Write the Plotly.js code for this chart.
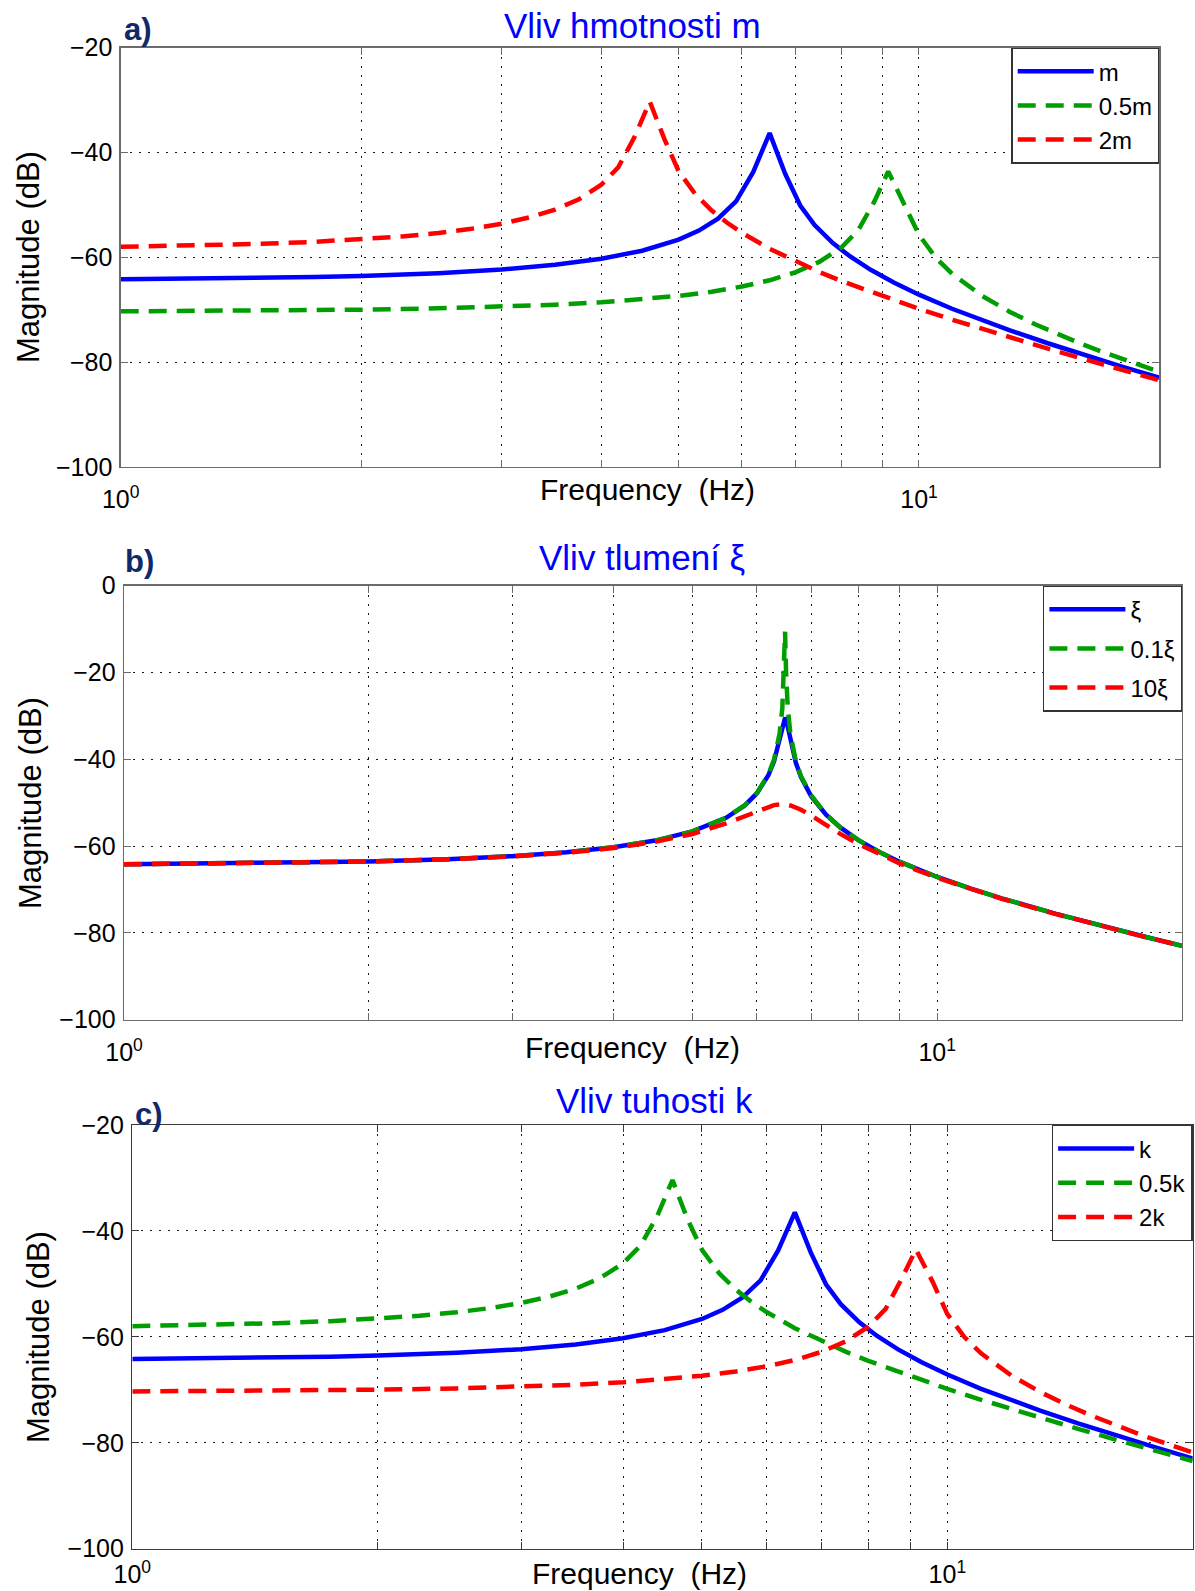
<!DOCTYPE html>
<html>
<head>
<meta charset="utf-8">
<script src="https://cdn.plot.ly/plotly-3.0.1.min.js"></script>
<style>
html,body{margin:0;padding:0;background:#ffffff;}
#chart{width:1195px;height:1591px;}
</style>
</head>
<body>
<div id="chart"></div>
<script>
// ---------------- data ----------------
// frequency grids (Hz)
const freqM = [1, 1.25, 1.5, 1.75, 2, 2.5, 3, 3.5, 4, 4.5, 5, 5.3, 5.6, 5.9, 6.2, 6.5, 6.8, 7.1, 7.4, 7.8, 8.2, 8.7, 9.3, 10, 11, 12, 13, 14.5, 16, 18, 20];
const freqL = [1, 1.25, 1.5, 1.75, 2, 2.25, 2.5, 2.75, 3, 3.25, 3.5, 3.75, 4, 4.2, 4.4, 4.6, 4.8, 5, 5.25, 5.5, 5.75, 6, 6.5, 7, 7.5, 8, 9, 10, 11, 12, 13, 14.5, 16, 18, 20];
const freqH = [1, 1.5, 2, 2.5, 3, 3.5, 4, 4.5, 5, 5.5, 6, 6.5, 7, 7.5, 8, 8.4, 8.8, 9.15, 9.6, 10, 10.5, 11, 12, 13, 14, 15, 16, 17, 18, 19, 20];
const freqB = [1, 1.5, 2, 2.5, 3, 3.5, 4, 4.5, 5, 5.5, 5.8, 6.0, 6.2, 6.3, 6.4, 6.45, 6.48, 6.5, 6.52, 6.55, 6.6, 6.7, 6.8, 7.0, 7.3, 7.6, 8, 8.5, 9, 10, 11, 12, 14, 16, 18, 20];

// a) Vliv hmotnosti m  (magnitude, dB)
const magA_m   = [-64.19, -64.07, -63.93, -63.75, -63.54, -63.01, -62.32, -61.43, -60.27, -58.73, -56.62, -54.90, -52.62, -49.32, -43.69, -36.3, -44.11, -50.12, -53.83, -57.27, -59.84, -62.37, -64.80, -67.12, -69.81, -72.03, -73.94, -76.39, -78.48, -80.88, -82.96];
const magA_05m = [-70.30, -70.17, -69.98, -69.73, -69.42, -69.04, -68.58, -68.02, -67.35, -66.55, -65.57, -64.38, -62.86, -60.87, -58.08, -54.73, -49.23, -43.6, -50.03, -55.70, -60.10, -63.12, -67.36, -70.41, -72.82, -74.82, -76.56, -78.08, -79.46, -80.70, -81.85];
const magA_2m  = [-57.98, -57.73, -57.42, -57.04, -56.58, -56.02, -55.36, -54.56, -53.59, -52.39, -50.89, -48.91, -46.14, -42.82, -37.10, -30.3, -37.49, -43.58, -48.02, -51.06, -53.40, -55.32, -58.37, -60.78, -62.79, -64.53, -67.43, -69.82, -71.88, -73.68, -75.29, -77.42, -79.31, -81.51, -83.46];

// b) Vliv tlumení ξ
const magB_xi   = [-64.19, -63.93, -63.54, -63.01, -62.32, -61.43, -60.27, -58.73, -56.62, -53.48, -50.62, -47.87, -43.69, -40.47, -35.61, -32.39, -30.79, -30.42, -30.84, -32.49, -35.78, -40.76, -44.11, -48.55, -52.74, -55.70, -58.63, -61.43, -63.65, -67.12, -69.81, -72.03, -75.62, -78.48, -80.88, -82.96];
const magB_01xi = [-64.19, -63.93, -63.54, -63.01, -62.32, -61.43, -60.27, -58.73, -56.62, -53.47, -50.58, -47.80, -43.50, -40.05, -34.09, -28.18, -20.58, -10.6, -20.62, -28.17, -34.23, -40.32, -43.90, -48.33, -52.74, -55.70, -58.63, -61.43, -63.65, -67.12, -69.81, -72.03, -75.62, -78.48, -80.88, -82.96];
const magB_10xi = [-64.20, -63.94, -63.56, -63.05, -62.38, -61.53, -60.43, -59.03, -57.20, -54.79, -53.06, -51.88, -50.89, -50.55, -50.39, -50.38, -50.40, -50.42, -50.45, -50.51, -50.65, -51.07, -51.62, -52.97, -55.15, -57.18, -59.53, -61.98, -64.03, -67.33, -69.95, -72.13, -75.68, -78.52, -80.91, -82.98];

// c) Vliv tuhosti k
const magC_k   = [-64.19, -64.07, -63.93, -63.75, -63.54, -63.01, -62.32, -61.43, -60.27, -58.73, -56.62, -54.90, -52.62, -49.32, -43.69, -36.5, -44.11, -50.12, -53.83, -57.27, -59.84, -62.37, -64.80, -67.12, -69.81, -72.03, -73.94, -76.39, -78.48, -80.88, -82.96];
const magC_05k = [-57.98, -57.73, -57.42, -57.04, -56.58, -56.02, -55.36, -54.56, -53.59, -52.39, -50.89, -48.91, -46.14, -42.82, -37.41, -30.4, -37.83, -43.58, -48.02, -51.06, -53.40, -55.32, -58.37, -60.78, -62.79, -64.53, -67.43, -69.82, -71.88, -73.68, -75.29, -77.42, -79.31, -81.51, -83.46];
const magC_2k  = [-70.30, -70.17, -69.98, -69.73, -69.42, -69.04, -68.58, -68.02, -67.35, -66.55, -65.57, -64.38, -62.86, -60.87, -58.08, -54.73, -48.90, -43.5, -49.71, -55.70, -60.10, -63.12, -67.36, -70.41, -72.82, -74.82, -76.56, -78.08, -79.46, -80.70, -81.85];

// texts and ticks
const namesA = ['m', '0.5m', '2m'];
const namesB = ['ξ', '0.1ξ', '10ξ'];
const namesC = ['k', '0.5k', '2k'];
const titles = ['Vliv hmotnosti m', 'Vliv tlumení ξ', 'Vliv tuhosti k'];
const letters = ['a)', 'b)', 'c)'];
const xLabel = 'Frequency\u00a0 (Hz)';
const yLabel = 'Magnitude (dB)';
const xMajorVals = [1, 10];
const xMajorText = ['10<sup>0</sup>', '10<sup>1</sup>'];
const xMinorVals = [2, 3, 4, 5, 6, 7, 8, 9];

// ---------------- layout ----------------
const W = 1195, H = 1591;
const px = v => v / W;
const py = v => 1 - v / H;
const FONT = '"Liberation Sans", Arial, Helvetica, sans-serif';
const BLUE = '#0000ff', GREEN = '#009e00', RED = '#ff0000';
const DASH = '18px,10px';
const GRIDC = '#1a1a1a', GRIDDASH = '2px,7px';

const P = [
  {l: 120.7, r: 1159.3, t: 47.7, b: 467,   yr: [-100, -20], line: '#6b6b6b', xstand: 10, lgap: 0,
   title: {x: 632, y: 26}, letter: {x: 122, y: 30}, xl: {x: 648, y: 489}, yl: {x: 29, y: 257}},
  {l: 124,   r: 1182,   t: 585.7, b: 1019.7, yr: [-100, 0],  line: '#6b6b6b', xstand: 10, lgap: 5,
   title: {x: 642, y: 557}, letter: {x: 123, y: 561}, xl: {x: 632, y: 1047}, yl: {x: 30, y: 803}},
  {l: 132.3, r: 1192.7, t: 1125, b: 1548.7, yr: [-100, -20], line: '#3a3a3a', xstand: 3, lgap: 0,
   title: {x: 654, y: 1100}, letter: {x: 133, y: 1114}, xl: {x: 639, y: 1573}, yl: {x: 38, y: 1337}}
];

function xAxis(p, anchor) {
  return {
    type: 'log', domain: [px(p.l), px(p.r)], range: [0, Math.log10(20)], anchor: anchor,
    tickmode: 'array', tickvals: xMajorVals, ticktext: xMajorText,
    ticks: 'inside', ticklen: 7, tickwidth: 1, tickcolor: p.line,
    minor: {tickmode: 'array', tickvals: xMinorVals, ticks: 'inside', ticklen: 7, tickwidth: 1, tickcolor: p.line,
            showgrid: true, gridcolor: GRIDC, gridwidth: 1, griddash: GRIDDASH},
    showline: true, linecolor: p.line, linewidth: 1.4, mirror: 'ticks',
    showgrid: true, gridcolor: GRIDC, gridwidth: 1, griddash: GRIDDASH,
    zeroline: false, ticklabelstandoff: p.xstand,
    tickfont: {family: FONT, size: 25, color: '#000'}, fixedrange: true
  };
}
function yAxis(p, anchor) {
  return {
    domain: [py(p.b), py(p.t)], range: p.yr, anchor: anchor,
    tickmode: 'linear', tick0: 0, dtick: 20,
    ticks: 'inside', ticklen: 7, tickwidth: 1, tickcolor: p.line,
    showline: true, linecolor: p.line, linewidth: 1.4, mirror: 'ticks',
    showgrid: true, gridcolor: GRIDC, gridwidth: 1, griddash: GRIDDASH,
    zeroline: false, ticklabelstandoff: 2,
    tickfont: {family: FONT, size: 25, color: '#000'}, fixedrange: true
  };
}
function legendAt(p) {
  return {
    x: px(p.r), xanchor: 'right', y: py(p.t), yanchor: 'top',
    bgcolor: '#ffffff', bordercolor: '#333333', borderwidth: 1.4,
    font: {family: FONT, size: 24, color: '#000'},
    itemwidth: 76, tracegroupgap: p.lgap, traceorder: 'grouped'
  };
}

function trace(x, y, name, color, dash, xa, ya, leg, grp) {
  return {
    x: x, y: y, name: name, type: 'scatter', mode: 'lines',
    line: {color: color, width: 4.5, dash: dash},
    xaxis: xa, yaxis: ya, legend: leg, legendgroup: grp, hoverinfo: 'skip'
  };
}

const data = [
  trace(freqM, magA_m,   namesA[0], BLUE,  'solid', 'x',  'y',  'legend',  'a1'),
  trace(freqH, magA_05m, namesA[1], GREEN, DASH,    'x',  'y',  'legend',  'a2'),
  trace(freqL, magA_2m,  namesA[2], RED,   DASH,    'x',  'y',  'legend',  'a3'),
  trace(freqB, magB_xi,   namesB[0], BLUE,  'solid', 'x2', 'y2', 'legend2', 'b1'),
  trace(freqB, magB_01xi, namesB[1], GREEN, DASH,    'x2', 'y2', 'legend2', 'b2'),
  trace(freqB, magB_10xi, namesB[2], RED,   DASH,    'x2', 'y2', 'legend2', 'b3'),
  trace(freqM, magC_k,   namesC[0], BLUE,  'solid', 'x3', 'y3', 'legend3', 'c1'),
  trace(freqL, magC_05k, namesC[1], GREEN, DASH,    'x3', 'y3', 'legend3', 'c2'),
  trace(freqH, magC_2k,  namesC[2], RED,   DASH,    'x3', 'y3', 'legend3', 'c3')
];

const annotations = [];
P.forEach((p, i) => {
  annotations.push({xref: 'paper', yref: 'paper', x: px(p.title.x), y: py(p.title.y), xanchor: 'center', yanchor: 'middle',
    text: titles[i], showarrow: false, font: {family: FONT, size: 35, color: '#0000ff'}});
  annotations.push({xref: 'paper', yref: 'paper', x: px(p.letter.x), y: py(p.letter.y), xanchor: 'left', yanchor: 'middle',
    text: '<b>' + letters[i] + '</b>', showarrow: false, font: {family: FONT, size: 31, color: '#10296a'}});
  annotations.push({xref: 'paper', yref: 'paper', x: px(p.xl.x), y: py(p.xl.y), xanchor: 'center', yanchor: 'middle',
    text: xLabel, showarrow: false, font: {family: FONT, size: 30, color: '#000'}});
  annotations.push({xref: 'paper', yref: 'paper', x: px(p.yl.x), y: py(p.yl.y), xanchor: 'center', yanchor: 'middle',
    text: yLabel, textangle: -90, showarrow: false, font: {family: FONT, size: 31, color: '#000'}});
});

const layout = {
  width: W, height: H, margin: {l: 0, r: 0, t: 0, b: 0, pad: 0},
  paper_bgcolor: '#ffffff', plot_bgcolor: '#ffffff',
  font: {family: FONT, color: '#000'},
  showlegend: true,
  xaxis: xAxis(P[0], 'y'),  yaxis: yAxis(P[0], 'x'),
  xaxis2: xAxis(P[1], 'y2'), yaxis2: yAxis(P[1], 'x2'),
  xaxis3: xAxis(P[2], 'y3'), yaxis3: yAxis(P[2], 'x3'),
  legend: legendAt(P[0]),
  legend2: legendAt(P[1]),
  legend3: legendAt(P[2]),
  annotations: annotations
};

Plotly.newPlot('chart', data, layout, {displayModeBar: false, staticPlot: true});
</script>
</body>
</html>
